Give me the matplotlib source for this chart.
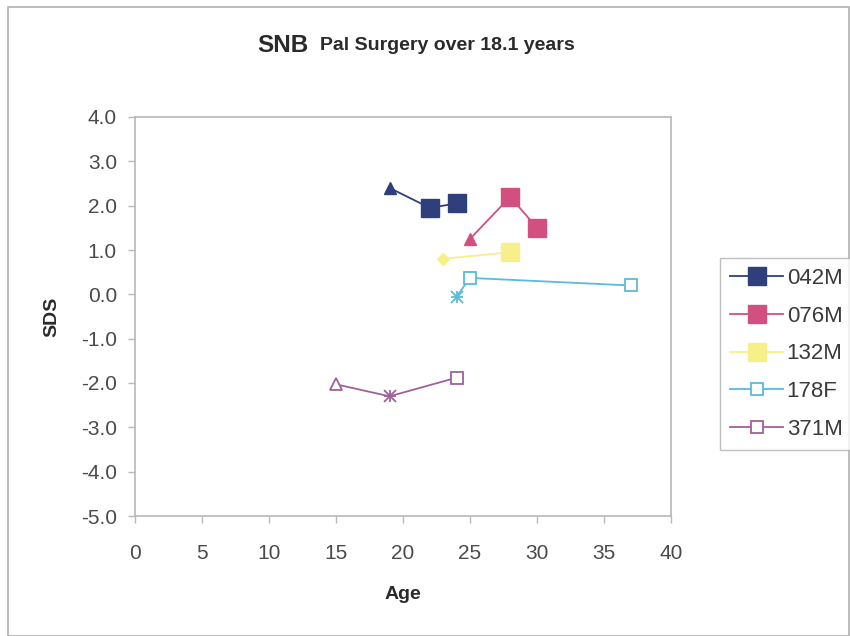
import matplotlib
matplotlib.use("Agg")
import matplotlib.pyplot as plt
from matplotlib.patches import Rectangle

plt.rcParams['font.family'] = ['Liberation Sans', 'DejaVu Sans']

# series data (age, SDS)
names = ['042M', '076M', '132M', '178F', '371M']
ages = [
    [19, 22, 24],
    [25, 28, 30],
    [23, 28],
    [24, 25, 37],
    [15, 19, 24],
]
sds = [
    [2.40, 1.95, 2.05],
    [1.25, 2.20, 1.50],
    [0.80, 0.95],
    [-0.05, 0.37, 0.20],
    [-2.03, -2.30, -1.88],
]
colors = ['#2e3f7c', '#d1507f', '#f7f08a', '#5bbbd8', '#a0609a']
# per-point markers: first point style, then squares
point_markers = [
    ['^', 's', 's'],
    ['^', 's', 's'],
    ['D', 's'],
    ['x', 's', 's'],
    ['^', 'x', 's'],
]
filled = [True, True, True, False, False]

fig = plt.figure(figsize=(8.5, 6.36), dpi=100)
fig.patch.set_facecolor('white')
fig.add_artist(Rectangle((8 / 850, 0), 841 / 850, 629 / 636, transform=fig.transFigure,
                         fill=False, edgecolor='#b0b0b0', linewidth=1.2))

ax = fig.add_axes([135 / 850, 1 - 516 / 636, 536 / 850, 399 / 636])

handles = []
for name, x, y, c, mks, fl in zip(names, ages, sds, colors, point_markers, filled):
    ax.plot(x, y, color=c, linewidth=1.3, zorder=2)
    for xi, yi, m in zip(x, y, mks):
        if m == 's':
            size = 13 if fl else 9
        elif m == 'D':
            size = 6
        else:
            size = 8
        if m == 'x':
            ax.plot(xi, yi, marker='x', color=c, markersize=8, markeredgewidth=1.3, zorder=3)
            ax.plot(xi, yi, marker='+', color=c, markersize=9, markeredgewidth=1.3, zorder=3)
        elif fl:
            ax.plot(xi, yi, marker=m, color=c, markersize=size, markeredgecolor=c, zorder=3)
        else:
            ax.plot(xi, yi, marker=m, markerfacecolor='white', markeredgecolor=c,
                    markersize=size, markeredgewidth=1.3, zorder=3)
    if fl:
        h, = ax.plot([], [], color=c, marker='s', markersize=13, linewidth=1.3, markeredgecolor=c)
    else:
        h, = ax.plot([], [], color=c, marker='s', markersize=9, linewidth=1.3,
                     markerfacecolor='white', markeredgecolor=c, markeredgewidth=1.3)
    handles.append(h)

ax.set_xlim(0, 40)
ax.set_ylim(-5, 4)
ax.set_xticks(range(0, 41, 5))
ax.set_yticks(range(-5, 5))
ax.set_yticklabels([f'{v:.1f}' for v in range(-5, 5)])
for s in ax.spines.values():
    s.set_color('#b8b8b8')
    s.set_linewidth(1.2)
ax.tick_params(axis='both', direction='out', length=5, width=1, color='#b8b8b8',
               labelsize=15, labelcolor='#4a4a4a')
ax.tick_params(axis='x', pad=15)
ax.tick_params(axis='y', pad=8)

ax.set_xlabel('Age', fontsize=14, fontweight='bold', color='#2a2a2a', labelpad=17)
ax.set_ylabel('SDS', fontsize=14, fontweight='bold', color='#2a2a2a', labelpad=15)

fig.text(309 / 850, 1 - 45 / 636, 'SNB', fontsize=17.5, fontweight='bold',
         color='#2a2a2a', ha='right', va='center')
fig.text(320 / 850, 1 - 46 / 636, 'Pal Surgery over 18.1 years', fontsize=14,
         fontweight='bold', color='#2a2a2a', ha='left', va='center')

leg = fig.legend(handles, names, loc='upper left', bbox_to_anchor=(720 / 850, 1 - 258 / 636),
                 fontsize=16, frameon=True, fancybox=False, handlelength=2.4,
                 handletextpad=0.15, labelspacing=0.75, borderpad=0.45, borderaxespad=0)
leg.get_frame().set_edgecolor('#b0b0b0')
leg.get_frame().set_linewidth(1.0)
for t in leg.get_texts():
    t.set_color('#3a3a3a')

fig.savefig('out.png', dpi=100)
